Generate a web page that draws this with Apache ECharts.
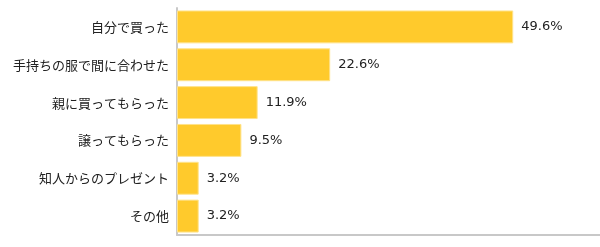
<!DOCTYPE html>
<html><head><meta charset="utf-8">
<script src="https://cdn.jsdelivr.net/npm/echarts@6/dist/echarts.min.js"></script>
<style>html,body{margin:0;padding:0;background:#fff}#c{width:600px;height:247px}</style>
</head><body><div id="c"></div>
<script>
var categories = ["自分で買った","手持ちの服で間に合わせた","親に買ってもらった","譲ってもらった","知人からのプレゼント","その他"];
var values = [49.6, 22.6, 11.9, 9.5, 3.2, 3.2];
var chart = echarts.init(document.getElementById('c'), null, {renderer:'canvas'});
chart.setOption({
  animation:false,
  grid:{left:177, right:0, top:8, bottom:12, containLabel:false},
  xAxis:{type:'value', min:0, max:62.4, show:true,
    axisLine:{show:true, lineStyle:{color:'#c8c8c8', width:2}},
    axisTick:{show:false}, axisLabel:{show:false}, splitLine:{show:false}},
  yAxis:{type:'category', inverse:true, data:categories,
    axisLine:{show:true, lineStyle:{color:'#c8c8c8', width:2}},
    axisTick:{show:false},
    axisLabel:{margin:8, fontSize:13, color:'#222', fontFamily:'Noto Sans CJK JP'}},
  series:[{type:'bar', data:values, barCategoryGap:'13%',
    itemStyle:{color:'#FFCA2C', borderColor:'#FFE38A', borderWidth:1},
    label:{show:true, position:'right', distance:8, fontSize:13, color:'#222',
      fontFamily:'DejaVu Sans', formatter:function(p){return p.value.toFixed(1)+'%';}}}]
});
</script></body></html>
